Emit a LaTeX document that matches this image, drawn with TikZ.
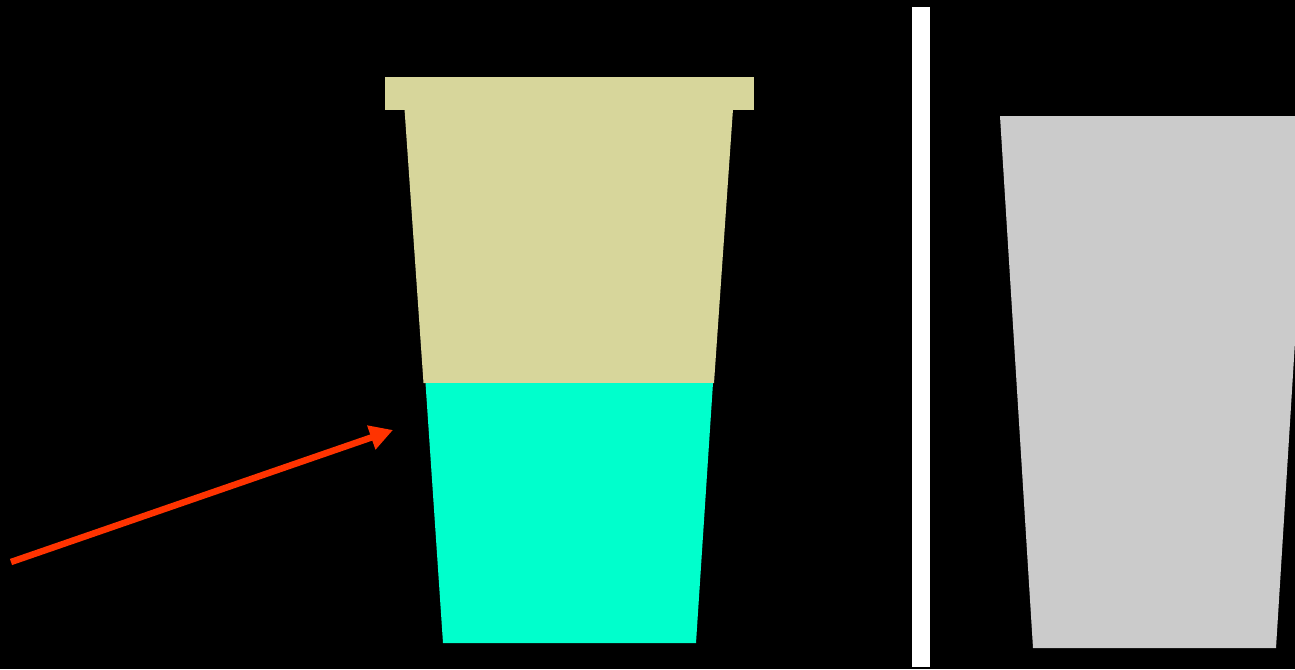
\documentclass[tikz,border=0pt]{standalone}
\usetikzlibrary{arrows.meta}
\definecolor{lidtan}{HTML}{D7D69B}
\definecolor{liquid}{HTML}{00FFCC}
\definecolor{cupgrey}{HTML}{CBCBCB}
\definecolor{arrowred}{HTML}{FF3300}
\tikzset{
  pointer/.style={draw=arrowred, line width=6.5pt, -{Triangle[length=23pt,width=24pt]}},
}
\begin{document}
\begin{tikzpicture}[x=1pt,y=-1pt]
\useasboundingbox (0,0) rectangle (1295,669);
\fill[black] (0,0) rectangle (1295,669);
\clip (0,0) rectangle (1295,669);
% lid
\fill[lidtan] (385,77) rectangle (754,110);
% upper (tan) body
\fill[lidtan] (404.5,109) -- (733,109) -- (714,383) -- (423.5,383) -- cycle;
% liquid
\fill[liquid] (425.5,383) -- (713,383) -- (696,643) -- (443,643) -- cycle;
% divider
\fill[white] (912,7) rectangle (930,667);
% grey cup
\fill[cupgrey] (1000,116) -- (1309,116) -- (1276,648) -- (1033,648) -- cycle;
% arrow
\coordinate (tail) at (11,562);
\coordinate (tip) at (393,430);
\draw[pointer] (tail) -- (tip);
\end{tikzpicture}
\end{document}
